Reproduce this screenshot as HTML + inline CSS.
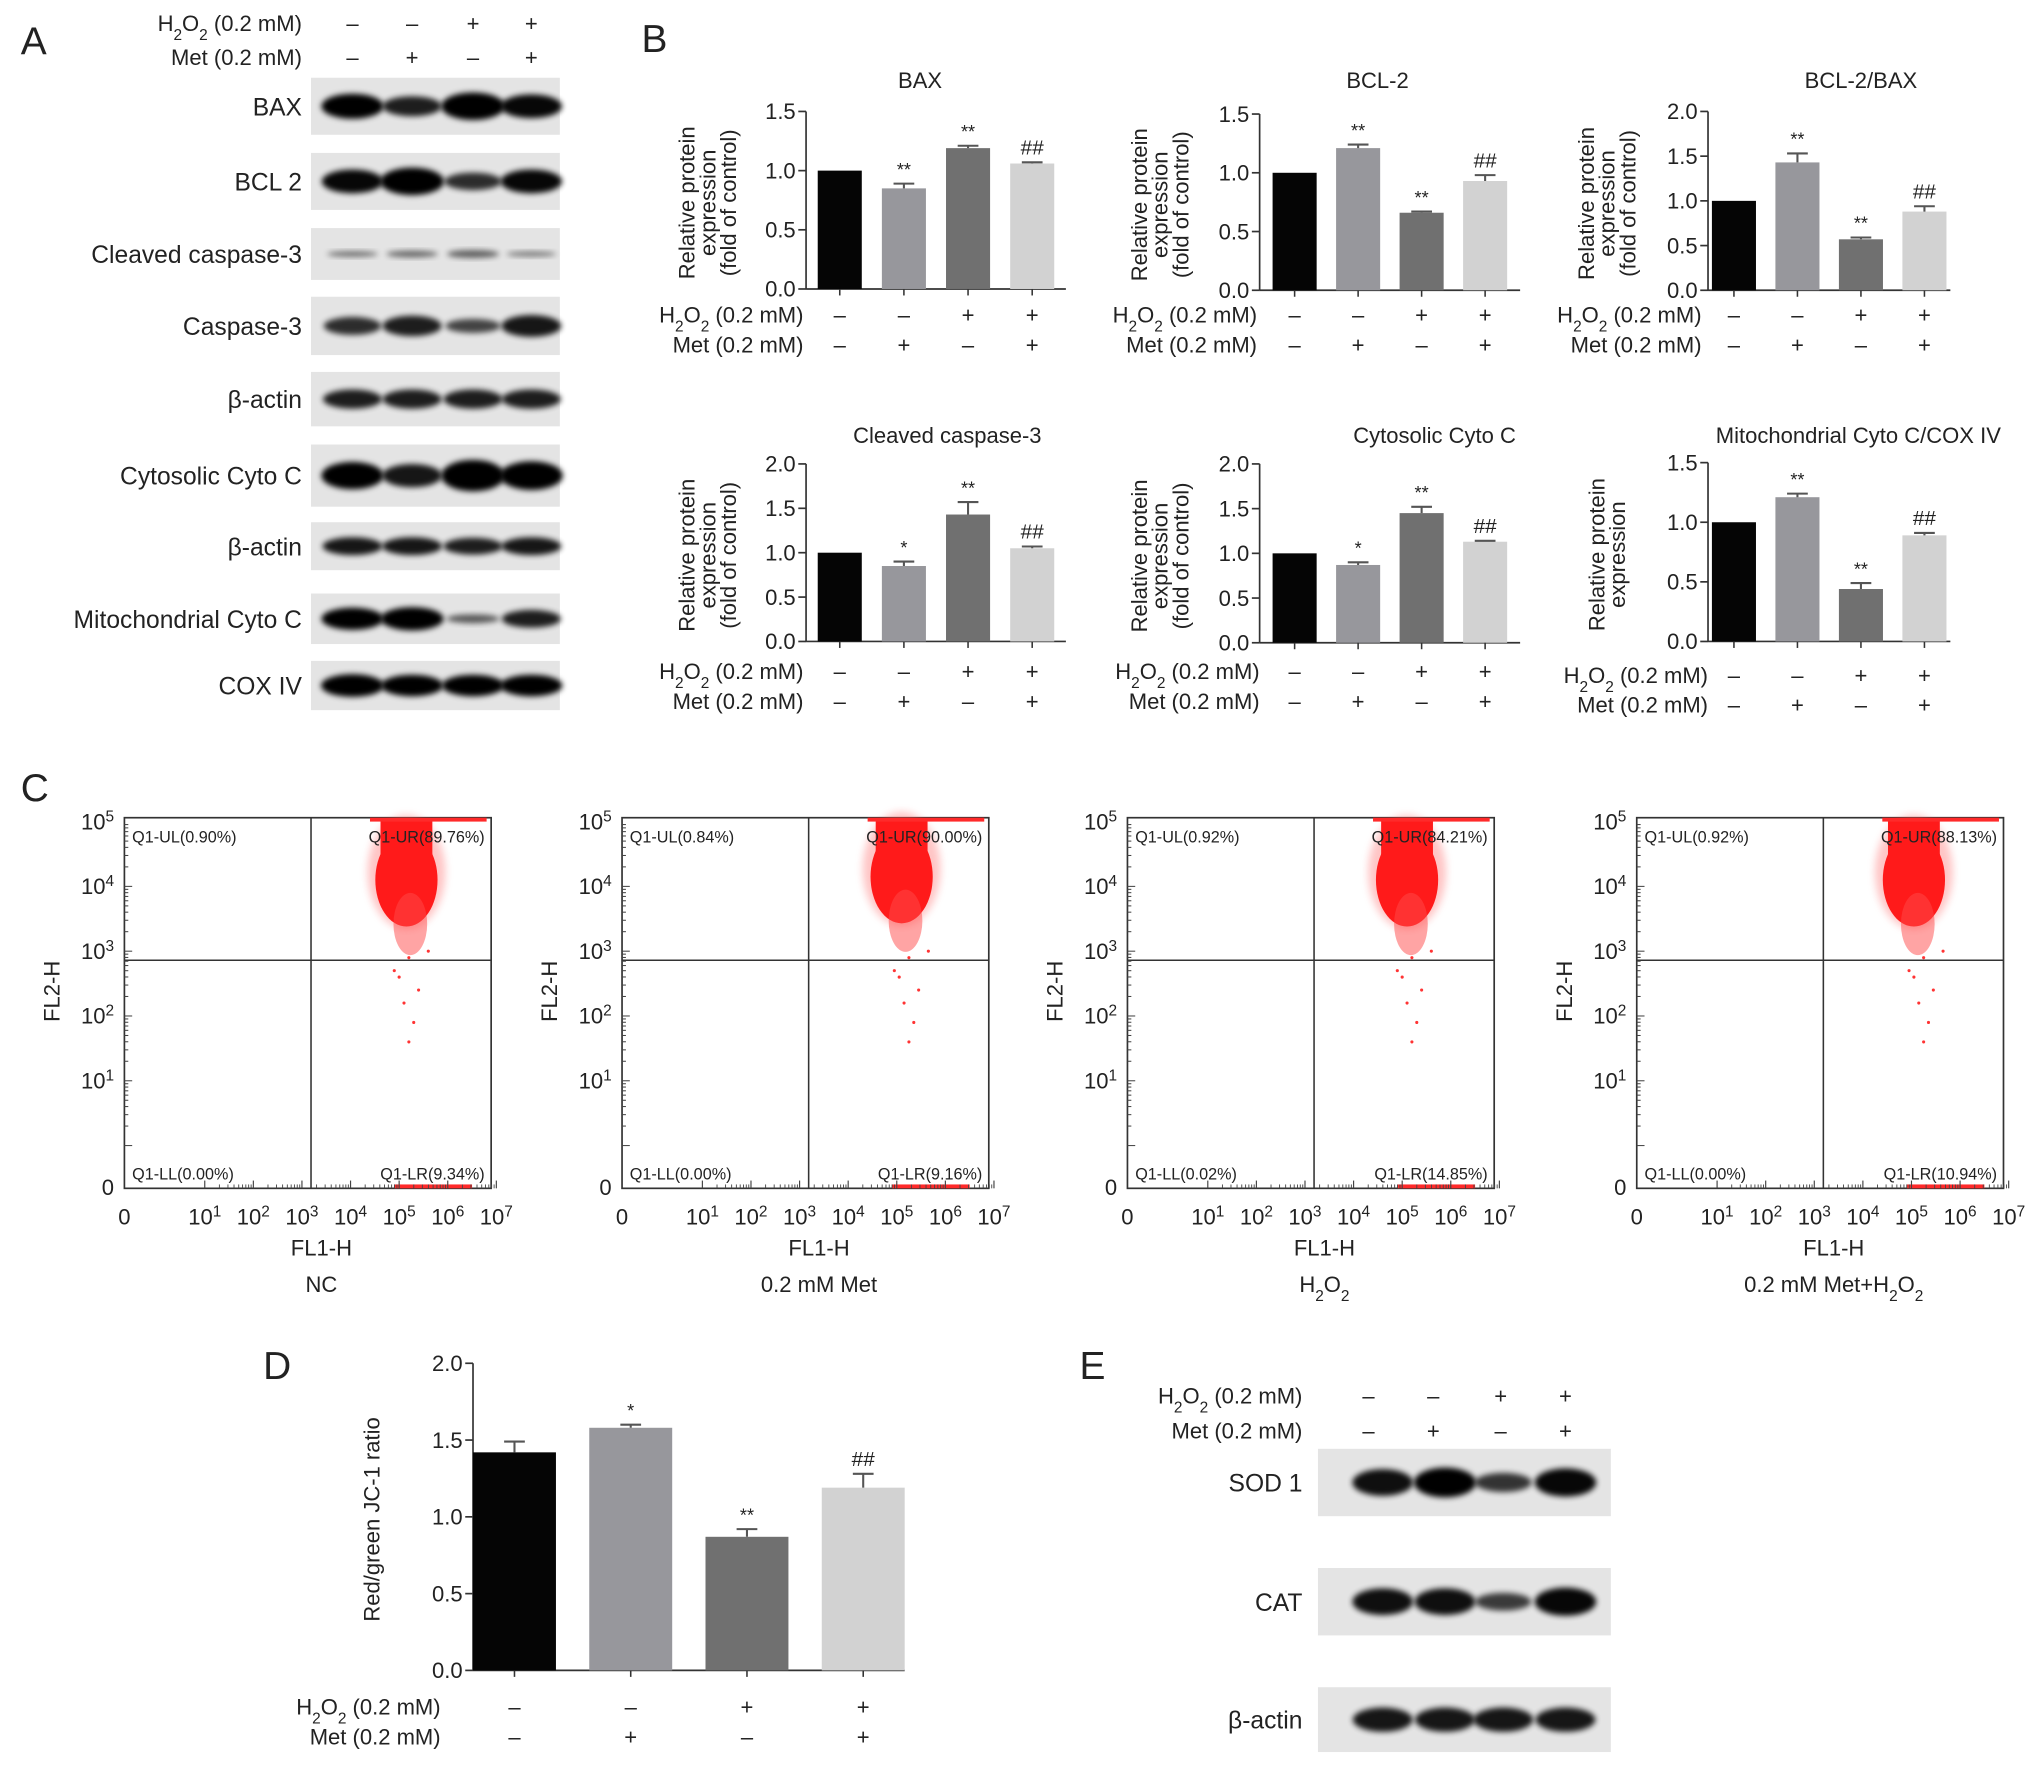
<!DOCTYPE html>
<html><head><meta charset="utf-8"><style>
html,body{margin:0;padding:0;background:#fff;}
svg{display:block;font-family:"Liberation Sans",sans-serif;}
</style></head><body>
<svg id="fig" width="2032" height="1772" viewBox="0 0 1568 1367.4" preserveAspectRatio="none" xmlns="http://www.w3.org/2000/svg">
<defs>
<filter id="blur" x="-20%" y="-50%" width="140%" height="200%"><feGaussianBlur stdDeviation="2.2"/></filter>
<filter id="soft" x="-50%" y="-50%" width="200%" height="200%"><feGaussianBlur stdDeviation="3"/></filter>
</defs>
<rect width="1568" height="1368" fill="#fff"/>
</svg>
<script>
// ---------- DATA ----------
const groups = ['Control','Met','H2O2','Met+H2O2'];
const h2o2Signs = ['–','–','+','+'];
const metSigns = ['–','+','–','+'];
const baxValues = [1.0,0.85,1.19,1.06];
const baxErrors = [0,0.04,0.02,0.01];
const baxMarks = ['','**','**','##'];
const bcl2Values = [1.0,1.21,0.66,0.93];
const bcl2Errors = [0,0.03,0.01,0.05];
const bcl2Marks = ['','**','**','##'];
const ratioValues = [1.0,1.43,0.57,0.88];
const ratioErrors = [0,0.10,0.02,0.06];
const ratioMarks = ['','**','**','##'];
const cleavedValues = [1.0,0.85,1.43,1.05];
const cleavedErrors = [0,0.05,0.14,0.02];
const cleavedMarks = ['','*','**','##'];
const cytoValues = [1.0,0.87,1.45,1.13];
const cytoErrors = [0,0.03,0.07,0.01];
const cytoMarks = ['','*','**','##'];
const mitoValues = [1.0,1.21,0.44,0.89];
const mitoErrors = [0,0.03,0.05,0.02];
const mitoMarks = ['','**','**','##'];
const jc1Values = [1.42,1.58,0.87,1.19];
const jc1Errors = [0.07,0.02,0.05,0.09];
const jc1Marks = ['','*','**','##'];
const ticks15 = [0,0.5,1.0,1.5];
const ticks20 = [0,0.5,1.0,1.5,2.0];
const flowTitles = ['NC','0.2 mM Met','H<tspan baseline-shift="sub" font-size="70%">2</tspan>O<tspan baseline-shift="sub" font-size="70%">2</tspan>','0.2 mM Met+H<tspan baseline-shift="sub" font-size="70%">2</tspan>O<tspan baseline-shift="sub" font-size="70%">2</tspan>'];
const flowUL = ['0.90','0.84','0.92','0.92'];
const flowUR = ['89.76','90.00','84.21','88.13'];
const flowLL = ['0.00','0.00','0.02','0.00'];
const flowLR = ['9.34','9.16','14.85','10.94'];
const flowClusterFL1 = [5.15,5.1,5.1,5.05];
const flowClusterFL2 = [4.1,4.15,4.1,4.1];
const outlierFL1 = [5.2,5.0,5.4,5.1,5.3,4.9,5.2,5.6];
const outlierFL2 = [2.9,2.6,2.4,2.2,1.9,2.7,1.6,3.0];
const blotA = ['BAX','BCL 2','Cleaved caspase-3','Caspase-3','β-actin','Cytosolic Cyto C','β-actin','Mitochondrial Cyto C','COX IV'];
const blotAIntensity = [[1,0.8,1.1,0.95],[0.95,1.1,0.7,0.95],[0.25,0.3,0.35,0.2],[0.7,0.8,0.55,0.85],[0.8,0.8,0.8,0.8],[1,0.85,1.15,1.05],[0.85,0.85,0.8,0.85],[1,1.05,0.4,0.8],[1.05,1,1,1]];
const blotE = ['SOD 1','CAT','β-actin'];
const blotEIntensity = [[0.9,1.0,0.65,0.95],[0.9,0.9,0.6,0.95],[0.85,0.85,0.85,0.85]];

// ---------- HELPERS ----------
const ns='http://www.w3.org/2000/svg';
const svg=document.getElementById('fig');
function mk(p,tag,a){const e=document.createElementNS(ns,tag);for(const k in a)e.setAttribute(k,a[k]);p.appendChild(e);return e;}
function tx(p,x,y,html,size,anchor,name){const e=mk(p,'text',{x:x,y:y,'font-size':size,'text-anchor':anchor||'start',fill:'#222'});e.innerHTML=html;


return e;}
const H2='H<tspan baseline-shift="sub" font-size="70%">2</tspan>O<tspan baseline-shift="sub" font-size="70%">2</tspan> (0.2 mM)';
const barColors=['#050505','#97979c','#707070','#d2d2d2'];

// panel letters
[['A',16,42],['B',495,40],['C',16,618],['D',203,1064],['E',833,1064]].forEach(l=>{
  tx(svg,l[1],l[2],l[0],30,'start','panel-label-'+l[0].toLowerCase());
});

function signRows(g,xs,yH,yM,labelX,prefix){
  tx(g,labelX,yH,H2,17,'end',prefix+'-h2o2-label');
  tx(g,labelX,yM,'Met (0.2 mM)',17,'end',prefix+'-met-label');
  xs.forEach((x,i)=>{
    tx(g,x,yH,h2o2Signs[i],17,'middle',prefix+'-h2o2-sign');
    tx(g,x,yM,metSigns[i],17,'middle',prefix+'-met-sign');
  });
}

// ---------- BAR CHART ----------
function barChart(o){
  const g=mk(svg,'g',{});
  
  
  const max=o.ticks[o.ticks.length-1];
  const y=v=>o.y0-v/max*(o.y0-o.yTop);
  const x=i=>o.ax+o.off+o.step*i;
  mk(g,'line',{x1:o.ax,y1:o.y0,x2:o.ax,y2:o.yTop,stroke:'#333','stroke-width':1.3});
  mk(g,'line',{x1:o.ax,y1:o.y0,x2:o.ax+o.off*2+o.step*3,y2:o.y0,stroke:'#333','stroke-width':1.3});
  o.ticks.forEach(t=>{
    const tl=mk(g,'line',{x1:o.ax-6,y1:y(t),x2:o.ax,y2:y(t),stroke:'#333','stroke-width':1.3});
    
    
    tx(g,o.ax-8,y(t)+6,t.toFixed(1),17,'end','y-tick-label');
  });
  o.values.forEach((v,i)=>{
    const r=mk(g,'rect',{x:x(i)-o.bw/2,y:y(v),width:o.bw,height:o.y0-y(v),fill:barColors[i]});
    
    
    mk(g,'line',{x1:x(i),y1:o.y0,x2:x(i),y2:o.y0+5,stroke:'#333','stroke-width':1.2});
    const e=o.errors[i];
    if(e>0){
      const eb=mk(g,'path',{d:`M${x(i)},${y(v)}V${y(v+e)}M${x(i)-8},${y(v+e)}H${x(i)+8}`,stroke:'#555','stroke-width':1.6,fill:'none'});
      
      
    }
    if(o.marks[i]) tx(g,x(i),y(v+e)-6,o.marks[i],o.marks[i][0]=='#'?16:14,'middle','significance-mark');
  });
  if(o.title) tx(g,o.titleX,o.titleY,o.title,17,'middle','chart-title');
  const cy=(o.y0+o.yTop)/2+2;
  o.ylabel.forEach((s,k)=>{
    const t=tx(g,0,0,s,17,'middle','y-axis-title');
    t.setAttribute('transform',`translate(${o.ax+o.ylx+k*16},${cy}) rotate(-90)`);
  });
  signRows(g,[0,1,2,3].map(x),o.rowY,o.rowY+23,o.rowLabelX,o.name);
}
const yl3=['Relative protein','expression','(fold of control)'];
barChart({name:'chart-bax',values:baxValues,errors:baxErrors,marks:baxMarks,ticks:ticks15,ax:622,y0:223,yTop:86,off:26,step:49.5,bw:34,title:'BAX',titleX:710,titleY:68,ylabel:yl3,ylx:-86,rowY:249,rowLabelX:620});
barChart({name:'chart-bcl2',values:bcl2Values,errors:bcl2Errors,marks:bcl2Marks,ticks:ticks15,ax:972,y0:224,yTop:88,off:27,step:49,bw:34,title:'BCL-2',titleX:1063,titleY:68,ylabel:yl3,ylx:-87,rowY:249,rowLabelX:970});
barChart({name:'chart-bcl2-bax',values:ratioValues,errors:ratioErrors,marks:ratioMarks,ticks:ticks20,ax:1318,y0:224,yTop:86,off:20,step:49,bw:34,title:'BCL-2/BAX',titleX:1436,titleY:68,ylabel:yl3,ylx:-88,rowY:249,rowLabelX:1313});
barChart({name:'chart-cleaved-caspase3',values:cleavedValues,errors:cleavedErrors,marks:cleavedMarks,ticks:ticks20,ax:622,y0:495,yTop:358,off:26,step:49.5,bw:34,title:'Cleaved caspase-3',titleX:731,titleY:342,ylabel:yl3,ylx:-86,rowY:524,rowLabelX:620});
barChart({name:'chart-cytosolic-cytoc',values:cytoValues,errors:cytoErrors,marks:cytoMarks,ticks:ticks20,ax:972,y0:496,yTop:358,off:27,step:49,bw:34,title:'Cytosolic Cyto C',titleX:1107,titleY:342,ylabel:yl3,ylx:-87,rowY:524,rowLabelX:972});
barChart({name:'chart-mito-cytoc',values:mitoValues,errors:mitoErrors,marks:mitoMarks,ticks:ticks15,ax:1318,y0:495,yTop:357,off:20,step:49,bw:34,title:'Mitochondrial Cyto C/COX IV',titleX:1434,titleY:342,ylabel:['Relative protein','expression'],ylx:-80,rowY:527,rowLabelX:1318});
barChart({name:'chart-jc1',values:jc1Values,errors:jc1Errors,marks:jc1Marks,ticks:ticks20,ax:365,y0:1289,yTop:1052,off:32,step:89.7,bw:64,title:'',ylabel:['Red/green JC-1 ratio'],ylx:-72,rowY:1323,rowLabelX:340});

// ---------- BLOTS ----------
function blot(g,x0,w,y0,h,lanes,intens,label,labelX,bw){
  const b=mk(g,'g',{});
  
  
  mk(b,'rect',{x:x0,y:y0,width:w,height:h,fill:'#e4e4e4'});
  lanes.forEach((lx,i)=>{
    const k=intens[i];
    mk(b,'ellipse',{cx:lx,cy:y0+h/2,rx:bw*(0.75+0.25*Math.min(k,1.1)),ry:Math.max(2,h*0.22*k),fill:'#000',opacity:Math.min(1,0.35+0.65*k),filter:'url(#blur)'});
  });
  tx(g,labelX,y0+h/2+7,label,19,'end','blot-label');
}
const gA=mk(svg,'g',{});


const lanesA=[272,318,365,410];
signRows(gA,lanesA,24,50,233,'panel-a');
const rowsA=[[60,44],[118,44],[176,40],[229,45],[287,42],[343,48],[403,37],[458,39],[510,38]];
blotA.forEach((n,i)=>blot(gA,240,192,rowsA[i][0],rowsA[i][1],lanesA,blotAIntensity[i],n,233,24));

const gE=mk(svg,'g',{});


const lanesE=[1067,1115,1160,1208];
signRows(gE,[1056,1106,1158,1208],1083,1110,1005,'panel-e');
const rowsE=[[1118,52],[1210,52],[1302,50]];
blotE.forEach((n,i)=>blot(gE,1017,226,rowsE[i][0],rowsE[i][1],lanesE,blotEIntensity[i],n,1005,24));

// ---------- FLOW PLOTS ----------
const flowLefts=[96,480,870,1263];
flowLefts.forEach((L,p)=>{
  const g=mk(svg,'g',{});
  
  
  const T=631,W=283,Hh=286,B=T+Hh;
  const fx=l=>L+62+(l-1)*37.5;
  const fy=l=>634+(5-l)*50;
  mk(g,'rect',{x:L,y:T,width:W,height:Hh,fill:'#fff',stroke:'#333','stroke-width':1.3});
  const cx=fx(flowClusterFL1[p]),cy=fy(flowClusterFL2[p]);
  mk(g,'ellipse',{cx:cx,cy:cy-6,rx:30,ry:44,fill:'#ff5a5a',opacity:0.35,filter:'url(#soft)'});
  const c1=mk(g,'ellipse',{cx:cx,cy:cy,rx:24,ry:36,fill:'#ff1a1a'});
  
  
  mk(g,'ellipse',{cx:cx+3,cy:cy+34,rx:13,ry:24,fill:'#ff4a4a',opacity:0.5});
  mk(g,'rect',{x:cx-20,y:T+2,width:40,height:cy-T,fill:'#ff1a1a'});
  mk(g,'rect',{x:fx(4.4),y:T,width:fx(6.8)-fx(4.4),height:3,fill:'#ff2a2a'});
  mk(g,'rect',{x:fx(4.9),y:B-3,width:fx(6.5)-fx(4.9),height:3,fill:'#ff2a2a'});
  outlierFL1.forEach((v,i)=>{
    const d=mk(g,'circle',{cx:fx(v+(p%2)*0.05),cy:fy(outlierFL2[i]),r:1.2,fill:'#f33'});
    
    
  });
  const vx=L+144,hy=741;
  mk(g,'line',{x1:vx,y1:T,x2:vx,y2:B,stroke:'#333','stroke-width':1.2});
  mk(g,'line',{x1:L,y1:hy,x2:L+W,y2:hy,stroke:'#333','stroke-width':1.2});
  tx(g,L+6,T+19,'Q1-UL('+flowUL[p]+'%)',12.5,'start','quadrant-ul-label');
  tx(g,L+W-5,T+19,'Q1-UR('+flowUR[p]+'%)',12.5,'end','quadrant-ur-label');
  tx(g,L+6,B-7,'Q1-LL('+flowLL[p]+'%)',12.5,'start','quadrant-ll-label');
  tx(g,L+W-5,B-7,'Q1-LR('+flowLR[p]+'%)',12.5,'end','quadrant-lr-label');
  [5,4,3,2,1].forEach(e=>{
    tx(g,L-8,fy(e)+6,'10<tspan baseline-shift="super" font-size="70%">'+e+'</tspan>',17,'end','y-tick-label');
    for(let m=1;m<10;m++){const yy=fy(e-1+Math.log10(m));if(yy<B)mk(g,'line',{x1:L,y1:yy,x2:L+(m==1?6:3),y2:yy,stroke:'#444','stroke-width':0.8});}
  });
  tx(g,L-8,B+5,'0',17,'end','y-tick-label');
  tx(g,L,B+28,'0',17,'middle','x-tick-label');
  [1,2,3,4,5,6,7].forEach(e=>{
    tx(g,fx(e),B+28,'10<tspan baseline-shift="super" font-size="70%">'+e+'</tspan>',17,'middle','x-tick-label');
    mk(g,'line',{x1:fx(e),y1:B,x2:fx(e),y2:B-6,stroke:'#444','stroke-width':0.9});
    if(e<7)for(let m=2;m<10;m++){const xx=fx(e+Math.log10(m));mk(g,'line',{x1:xx,y1:B,x2:xx,y2:B-3,stroke:'#444','stroke-width':0.7});}
  });
  tx(g,L+152,B+52,'FL1-H',17,'middle','x-axis-title');
  const yt=tx(g,0,0,'FL2-H',17,'middle','y-axis-title');
  yt.setAttribute('transform',`translate(${L-50},${T+134}) rotate(-90)`);
  tx(g,L+152,B+80,flowTitles[p],17,'middle','flow-plot-title');
});
</script>
</body></html>
